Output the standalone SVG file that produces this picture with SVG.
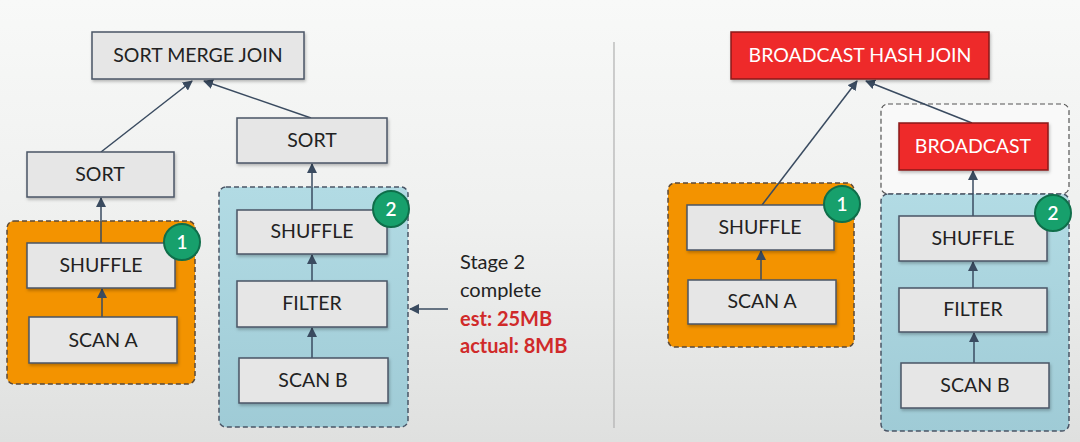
<svg xmlns="http://www.w3.org/2000/svg" width="1080" height="442" viewBox="0 0 1080 442">
<defs>
<linearGradient id="bg" x1="0" y1="0" x2="0" y2="1">
<stop offset="0" stop-color="#f8f9f8"/>
<stop offset="0.5" stop-color="#eff0ef"/>
<stop offset="1" stop-color="#dfe0df"/>
</linearGradient>
<linearGradient id="blue" x1="0" y1="0" x2="0" y2="1">
<stop offset="0" stop-color="#b2dbe4"/>
<stop offset="1" stop-color="#9fcbd6"/>
</linearGradient>
<filter id="sh" x="-10%" y="-10%" width="130%" height="140%">
<feDropShadow dx="1" dy="2" stdDeviation="1.5" flood-color="#000" flood-opacity="0.25"/>
</filter>
<marker id="ah" viewBox="0 0 10 10" refX="9" refY="5" markerWidth="10" markerHeight="10" markerUnits="userSpaceOnUse" orient="auto">
<path d="M0,0 L10,5 L0,10 z" fill="#3a4b60"/>
</marker>
</defs>
<style>
.node{fill:#e6e6e6;stroke:#4a5566;stroke-width:1.5;filter:url(#sh)}
.red{fill:#ee2a2a;stroke:#8a1a1a;stroke-width:1.5;filter:url(#sh)}
.lbl{font-family:Lato,"Open Sans",sans-serif;font-size:19.5px;fill:#222;text-anchor:middle}
.wlbl{font-family:Lato,"Open Sans",sans-serif;font-size:19.5px;fill:#fff;text-anchor:middle}
.orange{fill:#f39300;stroke:#5a4a3a;stroke-width:1.5;stroke-dasharray:5 3}
.bluegrp{fill:url(#blue);stroke:#4a5566;stroke-width:1.5;stroke-dasharray:5 3}
.whitegrp{fill:#f9f9f9;stroke:#555;stroke-width:1.2;stroke-dasharray:5 3}
.badge{fill:#17a06c;stroke:#0f6e4a;stroke-width:2}
.btxt{font-family:Lato,"Open Sans",sans-serif;font-size:19px;font-weight:600;fill:#fff;text-anchor:middle}
.conn{stroke:#3a4b60;stroke-width:1.5;fill:none;marker-end:url(#ah)}
.note{font-family:Lato,"Open Sans",sans-serif;font-size:20px;fill:#222}
.noteR{font-family:Lato,"Open Sans",sans-serif;font-size:20px;font-weight:bold;fill:#d02a2a}
</style>
<rect width="1080" height="442" fill="url(#bg)"/>
<line x1="614" y1="42" x2="614" y2="428" stroke="#b0b0b0" stroke-width="1.2"/>

<!-- groups / stages -->
<g id="stage1-left"><rect class="orange" x="7" y="221" width="188" height="163" rx="7"/></g>
<g id="stage2-left"><rect class="bluegrp" x="219" y="187" width="189" height="240" rx="7"/></g>
<g id="stage1-right"><rect class="orange" x="668" y="183" width="186" height="164" rx="7"/></g>
<g id="broadcast-grp"><rect class="whitegrp" x="881" y="104" width="188" height="90" rx="7"/></g>
<g id="stage2-right"><rect class="bluegrp" x="881" y="194" width="188" height="237" rx="7"/></g>

<g id="connectors">
<line class="conn" x1="101" y1="152" x2="192" y2="81"/>
<line class="conn" x1="311" y1="118" x2="204" y2="81"/>
<line class="conn" x1="101" y1="243" x2="101" y2="198"/>
<line class="conn" x1="102" y1="317" x2="102" y2="289"/>
<line class="conn" x1="312" y1="210" x2="312" y2="164"/>
<line class="conn" x1="312" y1="281" x2="312" y2="255"/>
<line class="conn" x1="312" y1="358" x2="312" y2="328"/>
<line class="conn" x1="448" y1="309" x2="410" y2="309"/>
<line class="conn" x1="762" y1="205" x2="857" y2="81"/>
<line class="conn" x1="972" y1="123" x2="866" y2="81"/>
<line class="conn" x1="761" y1="280" x2="761" y2="251"/>
<line class="conn" x1="973" y1="216" x2="973" y2="171"/>
<line class="conn" x1="973" y1="288" x2="973" y2="262"/>
<line class="conn" x1="974" y1="363" x2="974" y2="333"/>
</g>

<g id="smj"><rect class="node" x="92" y="32" width="212" height="47"/><text class="lbl" x="198" y="62">SORT MERGE JOIN</text></g>
<g id="sort-l"><rect class="node" x="27" y="152" width="147" height="45"/><text class="lbl" x="100" y="181">SORT</text></g>
<g id="sort-r"><rect class="node" x="237" y="118" width="150" height="45"/><text class="lbl" x="312" y="147">SORT</text></g>
<g id="shuffle-a-l"><rect class="node" x="27" y="243" width="148" height="45"/><text class="lbl" x="101" y="272">SHUFFLE</text></g>
<g id="scan-a-l"><rect class="node" x="29" y="317" width="148" height="46"/><text class="lbl" x="103" y="347">SCAN A</text></g>
<g id="shuffle-b-l"><rect class="node" x="237" y="210" width="150" height="44"/><text class="lbl" x="312" y="238">SHUFFLE</text></g>
<g id="filter-l"><rect class="node" x="237" y="281" width="150" height="46"/><text class="lbl" x="312" y="310">FILTER</text></g>
<g id="scan-b-l"><rect class="node" x="239" y="358" width="149" height="45"/><text class="lbl" x="313" y="387">SCAN B</text></g>
<g id="badge1-l"><circle class="badge" cx="182" cy="242" r="18"/><text class="btxt" x="182" y="249">1</text></g>
<g id="badge2-l"><circle class="badge" cx="391" cy="209" r="18"/><text class="btxt" x="391" y="216">2</text></g>

<g id="note">
<text class="note" x="460" y="269">Stage 2</text>
<text class="note" x="460" y="297">complete</text>
<text class="noteR" x="460" y="326">est: 25MB</text>
<text class="noteR" x="460" y="353">actual: 8MB</text>
</g>

<g id="bhj"><rect class="red" x="731" y="32" width="258" height="47"/><text class="wlbl" x="860" y="62">BROADCAST HASH JOIN</text></g>
<g id="broadcast"><rect class="red" x="899" y="123" width="149" height="47"/><text class="wlbl" x="973" y="153">BROADCAST</text></g>
<g id="shuffle-a-r"><rect class="node" x="687" y="205" width="147" height="45"/><text class="lbl" x="760" y="234">SHUFFLE</text></g>
<g id="scan-a-r"><rect class="node" x="688" y="280" width="148" height="44"/><text class="lbl" x="762" y="308">SCAN A</text></g>
<g id="shuffle-b-r"><rect class="node" x="899" y="216" width="148" height="45"/><text class="lbl" x="973" y="245">SHUFFLE</text></g>
<g id="filter-r"><rect class="node" x="899" y="288" width="148" height="44"/><text class="lbl" x="973" y="316">FILTER</text></g>
<g id="scan-b-r"><rect class="node" x="901" y="363" width="148" height="45"/><text class="lbl" x="975" y="392">SCAN B</text></g>
<g id="badge1-r"><circle class="badge" cx="842" cy="204" r="18"/><text class="btxt" x="842" y="211">1</text></g>
<g id="badge2-r"><circle class="badge" cx="1053" cy="213" r="18"/><text class="btxt" x="1053" y="220">2</text></g>
</svg>
